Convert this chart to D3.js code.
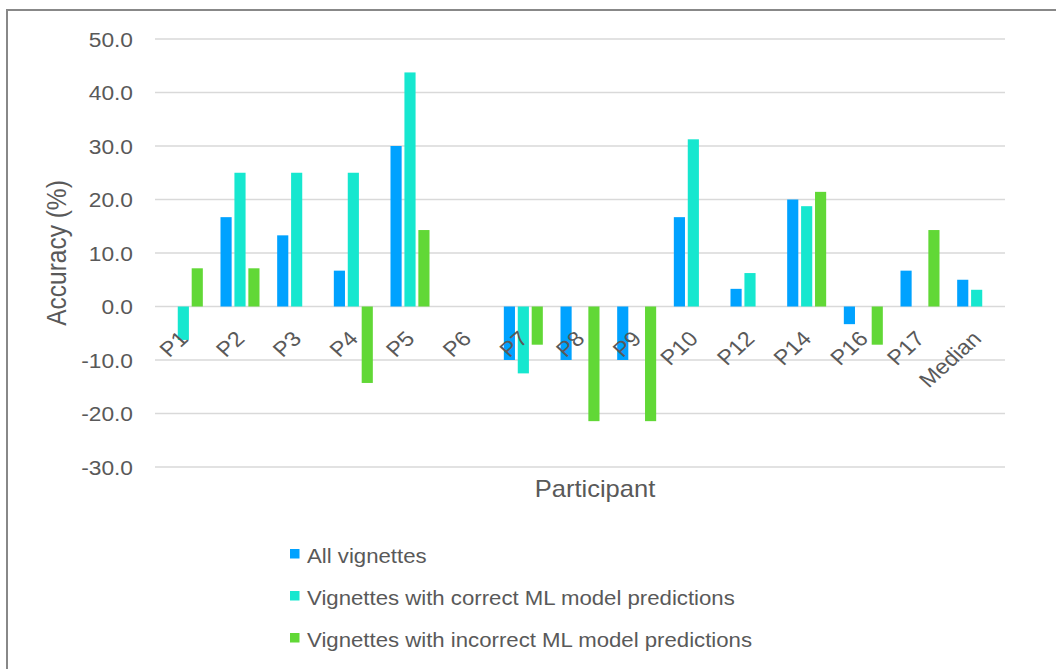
<!DOCTYPE html>
<html>
<head>
<meta charset="utf-8">
<script src="https://cdn.jsdelivr.net/npm/d3@7"></script>
<style>
  body { margin: 0; background: #fff; }
  text { font-family: "Liberation Sans", Arial, sans-serif; fill: #595959; }
</style>
</head>
<body>
<div id="chart"></div>
<script>
const participants = ['P1', 'P2', 'P3', 'P4', 'P5', 'P6', 'P7', 'P8', 'P9', 'P10', 'P12', 'P14', 'P16', 'P17', 'Median'];
const seriesNames = [
  'All vignettes',
  'Vignettes with correct ML model predictions',
  'Vignettes with incorrect ML model predictions'
];
const allVignettes = [0, 16.7, 13.3, 6.7, 30.0, 0, -10.0, -10.0, -10.0, 16.7, 3.3, 20.0, -3.3, 6.7, 5.0];
const correctPred = [-6.25, 25.0, 25.0, 25.0, 43.75, 0, -12.5, 0, 0, 31.25, 6.25, 18.75, 0, 0, 3.125];
const incorrectPred = [7.14, 7.14, 0, -14.29, 14.29, 0, -7.14, -21.43, -21.43, 0, 0, 21.43, -7.14, 14.29, 0];
const yTicks = [-30, -20, -10, 0, 10, 20, 30, 40, 50];

const colors = ['#00A2FF', '#16E7CF', '#61D836'];
const seriesValues = [allVignettes, correctPred, incorrectPred];

const width = 1056;
const height = 669;
const plot = { left: 155, right: 1005, top: 39, bottom: 467 };
// the source picture is a bit wider than tall, text included
const stretch = 1.11;

const svg = d3.select('#chart').append('svg')
  .attr('width', width)
  .attr('height', height);

// chart area frame (runs off the right and bottom edges)
svg.append('rect')
  .attr('x', 7)
  .attr('y', 10)
  .attr('width', 1060)
  .attr('height', 680)
  .attr('fill', 'none')
  .attr('stroke', '#888')
  .attr('stroke-width', 2);

const x0 = d3.scaleBand()
  .domain(participants)
  .range([plot.left, plot.right]);

const x1 = d3.scaleBand()
  .domain(d3.range(3))
  .range([0, 39])
  .paddingInner(0.2);

const y = d3.scaleLinear()
  .domain([-30, 50])
  .range([plot.bottom, plot.top]);

// gridlines
svg.append('g')
  .selectAll('line')
  .data(yTicks)
  .join('line')
  .attr('x1', plot.left)
  .attr('x2', plot.right)
  .attr('y1', d => y(d))
  .attr('y2', d => y(d))
  .attr('stroke', '#d9d9d9')
  .attr('stroke-width', 1.5);

// y tick labels
svg.append('g')
  .selectAll('text')
  .data(yTicks)
  .join('text')
  .attr('transform', d => `translate(133,${y(d) + 7.5}) scale(${stretch},1)`)
  .attr('text-anchor', 'end')
  .attr('font-size', 20.5)
  .text(d => d3.format('.1f')(d).replace('−', '-'));

// bars
const groupOffset = (x0.bandwidth() - 39) / 2;
const bars = [];
participants.forEach((p, i) => {
  seriesValues.forEach((vals, s) => {
    bars.push({ p, s, v: vals[i] });
  });
});

svg.append('g')
  .selectAll('rect')
  .data(bars.filter(d => d.v !== 0))
  .join('rect')
  .attr('x', d => x0(d.p) + groupOffset + x1(d.s))
  .attr('width', x1.bandwidth())
  .attr('y', d => Math.min(y(d.v), y(0)))
  .attr('height', d => Math.abs(y(d.v) - y(0)))
  .attr('fill', d => colors[d.s]);

// category labels, rotated
svg.append('g')
  .selectAll('text')
  .data(participants)
  .join('text')
  .attr('transform', d => `translate(${x0(d) + x0.bandwidth() / 2 + 6},340) scale(${stretch},1) rotate(-45)`)
  .attr('text-anchor', 'end')
  .attr('font-size', 21)
  .text(d => d);

// axis titles
svg.append('text')
  .attr('transform', `translate(66,${(plot.top + plot.bottom) / 2}) scale(${stretch},1) rotate(-90)`)
  .attr('text-anchor', 'middle')
  .attr('font-size', 24.5)
  .text('Accuracy (%)');

svg.append('text')
  .attr('transform', `translate(595,497) scale(${stretch},1)`)
  .attr('text-anchor', 'middle')
  .attr('font-size', 23)
  .text('Participant');

// legend
const legend = svg.append('g')
  .selectAll('g')
  .data(seriesNames)
  .join('g')
  .attr('transform', (d, i) => `translate(290,${563 + i * 42})`);

legend.append('rect')
  .attr('x', 0)
  .attr('y', -14)
  .attr('width', 9.5)
  .attr('height', 9.5)
  .attr('fill', (d, i) => colors[i]);

legend.append('text')
  .attr('transform', `translate(17,0) scale(${stretch},1)`)
  .attr('font-size', 20)
  .text(d => d);
</script>
</body>
</html>
